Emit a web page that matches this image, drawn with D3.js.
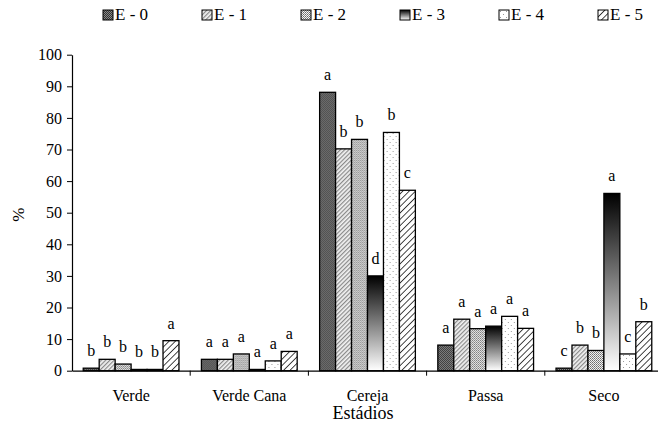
<!DOCTYPE html>
<html>
<head>
<meta charset="utf-8">
<script src="https://cdn.jsdelivr.net/npm/d3@7"></script>
<style>
  body { margin: 0; background: #fff; }
  svg text { font-family: "Liberation Serif", "Times New Roman", Times, serif !important; fill: #000; }
</style>
</head>
<body>
<div id="Vis"></div>
<script>
// data
var categories = ["Verde", "Verde Cana", "Cereja", "Passa", "Seco"];
var seriesNames = ["E - 0", "E - 1", "E - 2", "E - 3", "E - 4", "E - 5"];
var e0 = [0.8, 3.6, 88.1, 8.1, 0.8];
var e1 = [3.6, 3.6, 70.2, 16.3, 8.1];
var e2 = [2.1, 5.3, 73.2, 13.3, 6.4];
var e3 = [0.4, 0.4, 30.0, 14.1, 56.1];
var e4 = [0.4, 3.1, 75.4, 17.2, 5.3];
var e5 = [9.5, 6.1, 57.1, 13.4, 15.5];
var letters0 = ["b", "a", "a", "a", "c"];
var letters1 = ["b", "a", "b", "a", "b"];
var letters2 = ["b", "a", "b", "a", "b"];
var letters3 = ["b", "a", "d", "a", "a"];
var letters4 = ["b", "a", "b", "a", "c"];
var letters5 = ["a", "a", "c", "a", "b"];
var yTicks = [0, 10, 20, 30, 40, 50, 60, 70, 80, 90, 100];

var seriesValues = [e0, e1, e2, e3, e4, e5];
var seriesLetters = [letters0, letters1, letters2, letters3, letters4, letters5];

var width = 658, height = 425;
var margin = {top: 54.7, left: 72, bottom: 54.3, right: -5};

var svg = d3.select("#Vis")
  .append("svg")
    .attr("width", width)
    .attr("height", height)
    .style("font-family", "'Liberation Serif', serif");

// fills for each series
var defs = svg.append("defs");

var p0 = defs.append("pattern").attr("id", "f0")
  .attr("patternUnits", "userSpaceOnUse").attr("width", 2).attr("height", 2);
p0.append("rect").attr("width", 2).attr("height", 2).attr("fill", "#8a8a8a");
p0.append("rect").attr("width", 1).attr("height", 1).attr("fill", "#333");
p0.append("rect").attr("x", 1).attr("y", 1).attr("width", 1).attr("height", 1).attr("fill", "#333");

var p1 = defs.append("pattern").attr("id", "f1")
  .attr("patternUnits", "userSpaceOnUse").attr("width", 3).attr("height", 3)
  .attr("patternTransform", "rotate(45)");
p1.append("rect").attr("width", 3).attr("height", 3).attr("fill", "#f2f2f2");
p1.append("rect").attr("width", 1.2).attr("height", 3).attr("fill", "#8a8a8a");

var p2 = defs.append("pattern").attr("id", "f2")
  .attr("patternUnits", "userSpaceOnUse").attr("width", 2).attr("height", 2);
p2.append("rect").attr("width", 2).attr("height", 2).attr("fill", "#f4f4f4");
p2.append("rect").attr("width", 1).attr("height", 1).attr("fill", "#6a6a6a");
p2.append("rect").attr("x", 1).attr("y", 1).attr("width", 1).attr("height", 1).attr("fill", "#8a8a8a");

var g3 = defs.append("linearGradient").attr("id", "f3")
  .attr("x1", 0).attr("y1", 0).attr("x2", 0).attr("y2", 1);
g3.append("stop").attr("offset", "0%").attr("stop-color", "#000");
g3.append("stop").attr("offset", "100%").attr("stop-color", "#fff");

var p4 = defs.append("pattern").attr("id", "f4")
  .attr("patternUnits", "userSpaceOnUse").attr("width", 6).attr("height", 6);
p4.append("rect").attr("width", 6).attr("height", 6).attr("fill", "#fff");
p4.append("rect").attr("x", 1).attr("y", 1).attr("width", 1).attr("height", 1).attr("fill", "#999");
p4.append("rect").attr("x", 4).attr("y", 4).attr("width", 1).attr("height", 1).attr("fill", "#999");

var p5 = defs.append("pattern").attr("id", "f5")
  .attr("patternUnits", "userSpaceOnUse").attr("width", 4.5).attr("height", 4.5)
  .attr("patternTransform", "rotate(45)");
p5.append("rect").attr("width", 4.5).attr("height", 4.5).attr("fill", "#fff");
p5.append("rect").attr("width", 0.9).attr("height", 4.5).attr("fill", "#333");

var fills = ["url(#f0)", "url(#f1)", "url(#f2)", "url(#f3)", "url(#f4)", "url(#f5)"];

// scales
var x0 = d3.scaleBand()
  .domain(categories)
  .range([margin.left, width - margin.right])
  .paddingInner(0.19)
  .paddingOuter(0.095);

var x1 = d3.scaleBand()
  .domain(d3.range(seriesNames.length))
  .range([0, x0.bandwidth()]);

var y = d3.scaleLinear()
  .domain([0, 100])
  .range([height - margin.bottom, margin.top]);

// bars
var groups = svg.selectAll(".cat")
  .data(categories)
  .enter().append("g")
    .attr("class", "cat")
    .attr("transform", function(d) { return "translate(" + x0(d) + ",0)"; });

function cells(d, ci) {
  return seriesValues.map(function(v, si) { return {s: si, v: v[ci], l: seriesLetters[si][ci]}; });
}

groups.selectAll("rect")
  .data(cells)
  .enter().append("rect")
    .attr("x", function(d) { return x1(d.s); })
    .attr("y", function(d) { return y(d.v); })
    .attr("width", x1.bandwidth())
    .attr("height", function(d) { return y(0) - y(d.v); })
    .attr("fill", function(d) { return fills[d.s]; })
    .attr("stroke", "#000")
    .attr("stroke-width", 1.3);

// significance letters
groups.selectAll("text.lt")
  .data(cells)
  .enter().append("text")
    .attr("class", "lt")
    .attr("x", function(d) { return x1(d.s) + x1.bandwidth() / 2; })
    .attr("y", function(d) { return y(d.v) - 12; })
    .attr("text-anchor", "middle")
    .attr("font-size", "16px")
    .text(function(d) { return d.l; });

// y axis
var yAxis = svg.append("g")
  .attr("transform", "translate(" + margin.left + ",0)")
  .call(d3.axisLeft(y).tickValues(yTicks).tickSize(5).tickSizeOuter(0));
yAxis.attr("font-family", null);
yAxis.select(".domain").attr("stroke", "#000").attr("stroke-width", 1.2);
yAxis.selectAll(".tick line").attr("stroke", "#000");
yAxis.selectAll(".tick text")
  .attr("font-size", "16px")
  .attr("x", -10);

// x axis: baseline plus ticks between categories
var xAxis = svg.append("g")
  .attr("transform", "translate(0," + y(0) + ")")
  .call(d3.axisBottom(x0).tickSize(0).tickSizeOuter(0));
xAxis.attr("font-family", null);
xAxis.select(".domain").attr("stroke", "#000").attr("stroke-width", 1.2);
xAxis.selectAll(".tick text")
  .attr("font-size", "16px")
  .attr("dy", 0)
  .attr("y", 30);

var step = x0.step();
xAxis.selectAll(".sep")
  .data(categories.slice(1))
  .enter().append("line")
    .attr("class", "sep")
    .attr("x1", function(d) { return x0(d) - x0.paddingInner() * step / 2; })
    .attr("x2", function(d) { return x0(d) - x0.paddingInner() * step / 2; })
    .attr("y1", 0)
    .attr("y2", 5)
    .attr("stroke", "#000");

// axis titles
svg.append("text")
  .attr("x", 363)
  .attr("y", 419)
  .attr("text-anchor", "middle")
  .attr("font-size", "18px")
  .text("Estádios");

svg.append("text")
  .attr("transform", "translate(24," + (y(50) + 2) + ") rotate(-90)")
  .attr("text-anchor", "middle")
  .attr("font-size", "17px")
  .text("%");

// legend
var legend = svg.selectAll(".legend")
  .data(seriesNames)
  .enter().append("g")
    .attr("class", "legend")
    .attr("transform", function(d, i) { return "translate(" + (103 + i * 99) + ",10)"; });

legend.append("rect")
  .attr("width", 10)
  .attr("height", 10)
  .attr("fill", function(d, i) { return fills[i]; })
  .attr("stroke", "#000")
  .attr("stroke-width", 1);

legend.append("text")
  .attr("x", 12)
  .attr("y", 10)
  .attr("font-size", "17px")
  .text(function(d) { return d; });
</script>
</body>
</html>
